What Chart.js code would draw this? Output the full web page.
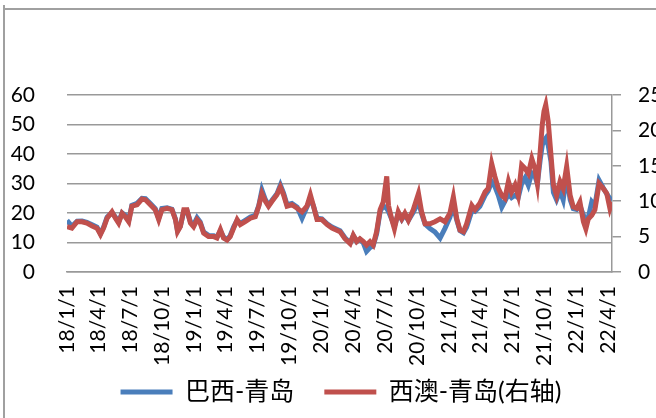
<!DOCTYPE html>
<html>
<head>
<meta charset="utf-8">
<script src="https://cdn.jsdelivr.net/npm/chart.js@4.4.1/dist/chart.umd.min.js"></script>
<style>
  html, body { margin: 0; padding: 0; background: #fff; }
  #wrap { position: relative; width: 656px; height: 418px; overflow: hidden; }
  #frameV { position: absolute; left: 3px; top: 5px; width: 2px; height: 420px; background: #a0a0a0; }
  #frameH { position: absolute; left: 3px; top: 8px; width: 660px; height: 2px; background: #a0a0a0; }
  canvas { position: absolute; left: 0; top: 0; }
</style>
</head>
<body>
<div id="wrap">
  <div id="frameV"></div>
  <div id="frameH"></div>
  <canvas id="myChart" width="656" height="418"></canvas>
</div>
<script>
// quarter labels on the date axis
const tickLabels = ["18/1/1", "18/4/1", "18/7/1", "18/10/1", "19/1/1", "19/4/1", "19/7/1", "19/10/1",
  "20/1/1", "20/4/1", "20/7/1", "20/10/1", "21/1/1", "21/4/1", "21/7/1", "21/10/1", "22/1/1", "22/4/1"];

// days since 2018-01-01
const days = [0, 14, 29, 43, 57, 72, 86, 96, 105, 115, 129, 139, 148, 158, 167, 177, 186, 201, 215, 225,
  239, 253, 263, 272, 287, 301, 311, 317, 325, 335, 344, 354, 363, 373, 382, 392, 406, 421, 430, 440,
  449, 459, 468, 478, 488, 497, 511, 526, 540, 550, 559, 569, 578, 588, 602, 612, 621, 631, 645, 660,
  674, 688, 698, 707, 717, 731, 746, 760,
  783, 797, 812, 821, 831, 840, 850, 859, 869, 878, 888, 898, 907, 917, 922, 931, 939, 950, 960, 969,
  979, 993, 1008, 1017, 1027, 1041, 1055, 1070, 1084, 1098, 1108, 1118, 1127, 1137, 1146, 1161, 1170, 1184, 1199, 1208,
  1218, 1227, 1237, 1247, 1256, 1266, 1275, 1285, 1294, 1304, 1314, 1323, 1333, 1342, 1349, 1357, 1363, 1368, 1373, 1380,
  1388, 1395, 1404, 1414, 1423, 1433, 1443, 1452, 1462, 1471, 1481, 1488, 1495, 1505, 1514, 1526, 1538, 1548, 1557, 1563];

// 巴西-青岛 (left axis)
const brazil = [17.5, 15.5, 17.2, 17.3, 16.8, 16, 15.2, 13, 15.2, 18.6, 20.2, 18.6, 17, 20, 19.2, 17.5, 22.6, 23.3, 25, 24.9,
  23.2, 21.5, 18.2, 21.5, 21.8, 21.3, 18, 14, 15.5, 20.5, 20.8, 17, 16, 18.4, 17, 13.5, 12.4, 12.3, 11.8, 14,
  11.8, 11, 12.3, 15.3, 17.5, 16.5, 17.5, 18.6, 19.2, 22.5, 27.8, 24.5, 22.6, 24.3, 26.5, 29.5, 26.8, 22.8, 23.2, 22,
  18.2, 22, 25, 22.3, 18.2, 18, 16.3, 15.2,
  14, 11.6, 9.8, 12.3, 10.3, 11.1, 9.8, 7, 8.3, 8.8, 13, 20.5, 22.5, 21.5, 20.5, 18, 15.5, 19.8, 17.8, 19.5,
  17.5, 20.2, 23.8, 19.8, 16.2, 14.7, 13.6, 11.5, 14.8, 18.5, 22.5, 17.5, 14, 13.3, 15.2, 20.8, 20.5, 22.3, 26, 27.5,
  30.6, 29, 26, 22, 24, 26.5, 25.2, 26, 25.2, 30, 32, 29.4, 33.5, 32.5, 30, 38, 43, 44.5, 45.3, 43,
  37.4, 27, 24.5, 27.5, 24.5, 32.8, 24.5, 21.5, 21.2, 22.5, 19.3, 16.5, 18.5, 23.8, 22.5, 31.1, 28.5, 26.5, 24.9, 24.5];

// 西澳-青岛 (right axis)
const westAus = [6.4, 6.2, 7.1, 7.1, 6.9, 6.5, 6.2, 5.3, 6.2, 7.6, 8.5, 7.6, 6.9, 8.3, 7.8, 7.1, 9.3, 9.5, 10.3, 10.2,
  9.5, 8.8, 7.4, 8.8, 9.0, 8.8, 7.4, 5.7, 6.4, 8.8, 8.8, 6.9, 6.4, 7.4, 6.9, 5.5, 5.0, 5.0, 4.8, 6.0,
  4.8, 4.5, 5.0, 6.2, 7.4, 6.7, 7.1, 7.6, 7.8, 9.3, 11.1, 10.0, 9.3, 10.0, 10.9, 12.0, 10.9, 9.3, 9.5, 9.0,
  8.5, 9.3, 10.9, 9.3, 7.4, 7.4, 6.7, 6.2,
  5.7, 4.7, 4.0, 5.2, 4.3, 4.7, 4.3, 3.8, 4.3, 3.8, 5.7, 8.8, 9.9, 13.5, 9.4, 7.5, 6.1, 8.5, 7.5, 8.3,
  7.3, 8.8, 11.1, 8.5, 6.8, 6.8, 7.1, 7.5, 7.1, 8.3, 10.6, 7.5, 5.9, 5.7, 6.8, 9.4, 8.8, 9.7, 11.3, 11.8,
  15.3, 13.5, 11.8, 10.8, 10.4, 12.8, 11.3, 12.3, 10.8, 15.1, 14.6, 13.9, 16.0, 14.6, 12.5, 17.0, 20.8, 22.7, 23.6, 21.3,
  16.5, 12.3, 10.8, 12.8, 11.8, 14.9, 10.8, 9.2, 9.0, 9.9, 7.1, 6.1, 7.5, 8.0, 8.8, 12.5, 11.8, 11.1, 9.0, 9.9];

const start = Date.UTC(2018, 0, 1);
const tickDays = tickLabels.map(function (s) {
  const p = s.split("/");
  return (Date.UTC(2000 + Number(p[0]), Number(p[1]) - 1, Number(p[2])) - start) / 86400000;
});

const gridColor = "#999999";
const numFont = { family: "Lato", size: 21 };

// let the long date labels run past the axis box, nudge legend right like the original
const tweakLayout = {
  id: "tweakLayout",
  afterLayout(chart) {
    chart.scales.x.bottom = chart.height;
    chart.legend.left += 13;
    chart.legend.right += 13;
  },
};

const ctx = document.getElementById("myChart");

new Chart(ctx, {
  type: "line",
  plugins: [tweakLayout],
  data: {
    datasets: [
      {
        label: "巴西-青岛",
        data: days.map((d, i) => ({ x: d, y: brazil[i] })),
        borderColor: "#4a7ebb",
        backgroundColor: "#4a7ebb",
        borderWidth: 5,
        pointRadius: 0,
        tension: 0,
        yAxisID: "y",
        order: 2,
      },
      {
        label: "西澳-青岛(右轴)",
        data: days.map((d, i) => ({ x: d, y: westAus[i] })),
        borderColor: "#c0504d",
        backgroundColor: "#c0504d",
        borderWidth: 5,
        pointRadius: 0,
        tension: 0,
        yAxisID: "y1",
        order: 1,
      },
    ],
  },
  options: {
    responsive: false,
    animation: false,
    layout: {
      padding: { left: 0, right: 0, top: 95, bottom: 3.5 },
    },
    plugins: {
      tooltip: { enabled: false },
      legend: {
        position: "bottom",
        labels: {
          usePointStyle: true,
          pointStyle: "line",
          pointStyleWidth: 52,
          padding: 30,
          color: "#000",
          font: { family: "Lato, 'Noto Sans CJK SC'", size: 25 },
          sort: (a, b) => a.datasetIndex - b.datasetIndex,
        },
      },
    },
    scales: {
      x: {
        type: "linear",
        min: 0,
        max: 1563,
        grid: { display: false, drawTicks: false },
        border: { display: true, color: gridColor, width: 1.5 },
        afterBuildTicks: (scale) => {
          scale.ticks = tickDays.map((v) => ({ value: v }));
        },
        afterFit: (scale) => {
          scale.height = 77.5;
        },
        ticks: {
          autoSkip: false,
          maxRotation: 90,
          minRotation: 90,
          padding: 14,
          color: "#000",
          font: numFont,
          callback: (val, i) => tickLabels[i],
        },
      },
      y: {
        position: "left",
        min: 0,
        max: 60,
        grid: { color: gridColor, lineWidth: 1.5, drawTicks: false },
        border: { display: false },
        afterFit: (scale) => {
          scale.width = 67;
        },
        ticks: { stepSize: 10, padding: 32, color: "#000", font: numFont },
      },
      y1: {
        position: "right",
        min: 0,
        max: 25,
        grid: { drawOnChartArea: false, drawTicks: true, tickLength: 9, color: gridColor, lineWidth: 1.5 },
        border: { display: true, color: gridColor, width: 1.5 },
        afterFit: (scale) => {
          scale.width = 44;
        },
        ticks: { stepSize: 5, padding: 17, color: "#000", font: numFont },
      },
    },
  },
});
</script>
</body>
</html>
